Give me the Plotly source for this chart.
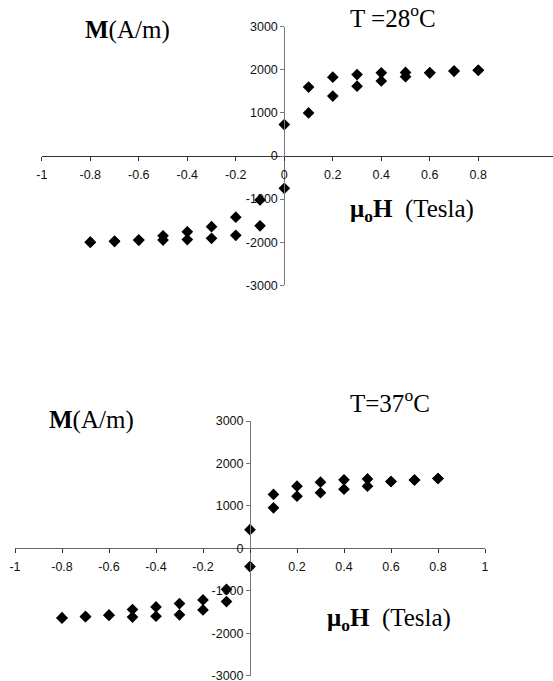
import plotly.graph_objects as go

W, H = 553, 681

field = [-0.8, -0.7, -0.6, -0.5, -0.4, -0.3, -0.2, -0.1, 0.0,
         0.1, 0.2, 0.3, 0.4, 0.5, 0.6, 0.7, 0.8]

m28_upper = [-2000, -1980, -1950, -1850, -1760, -1640, -1420, -1020, 730,
             1600, 1830, 1890, 1930, 1940, 1930, 1970, 1990]
m28_lower = [-2000, -1980, -1950, -1950, -1940, -1910, -1840, -1620, -750,
             1000, 1390, 1620, 1740, 1840, 1930, 1970, 1990]

m37_upper = [-1640, -1610, -1575, -1440, -1380, -1300, -1215, -965, 440,
             1270, 1465, 1560, 1615, 1635, 1575, 1610, 1645]
m37_lower = [-1640, -1605, -1575, -1620, -1600, -1565, -1450, -1255, -430,
             955, 1230, 1310, 1395, 1465, 1575, 1610, 1645]

x_ticks_top = [-1, -0.8, -0.6, -0.4, -0.2, 0, 0.2, 0.4, 0.6, 0.8]
x_ticks_bot = [-1, -0.8, -0.6, -0.4, -0.2, 0, 0.2, 0.4, 0.6, 0.8, 1]
x_labels_top = ["-1", "-0.8", "-0.6", "-0.4", "-0.2", "0", "0.2", "0.4", "0.6", "0.8"]
x_labels_bot = ["-1", "-0.8", "-0.6", "-0.4", "-0.2", "0", "0.2", "0.4", "0.6", "0.8", "1"]
y_ticks = [-3000, -2000, -1000, 0, 1000, 2000, 3000]
y_labels = ["-3000", "-2000", "-1000", "0", "1000", "2000", "3000"]

def px_x(p):
    return p / W

def px_y(p):
    return 1 - p / H

fig = go.Figure()
mk = dict(symbol="diamond", size=9, color="black")
for ys in (m28_upper, m28_lower):
    fig.add_trace(go.Scatter(x=field, y=ys, mode="markers", marker=mk,
                             xaxis="x", yaxis="y", showlegend=False, cliponaxis=False))
for ys in (m37_upper, m37_lower):
    fig.add_trace(go.Scatter(x=field, y=ys, mode="markers", marker=mk,
                             xaxis="x2", yaxis="y2", showlegend=False, cliponaxis=False))

tickfont = dict(family="Liberation Sans, Arial, sans-serif", size=12.5, color="#111")
common = dict(showgrid=False, zeroline=False, showline=True, ticks="outside",
              ticklen=4, tickwidth=1, tickfont=tickfont, fixedrange=True,
              automargin=False, ticklabeloverflow="allow")

# top panel geometry (pixels)
t_y3000, t_yn3000 = 26.7, 285.3
t_xm1, t_x0 = 41.8, 284.3
t_unit = (t_x0 - t_xm1)  # pixels per 1.0
t_xmax = -1 + (W - t_xm1) / t_unit

# bottom panel geometry
b_y3000, b_yn3000 = 421.0, 675.7
b_xm1, b_x1 = 15.0, 485.0
b_x0 = (b_xm1 + b_x1) / 2

fig.update_layout(
    width=W, height=H, margin=dict(l=0, r=0, t=0, b=0, pad=0, autoexpand=False),
    paper_bgcolor="white", plot_bgcolor="white",
    xaxis=dict(**common, domain=[px_x(t_xm1), 1.0], range=[-1, t_xmax],
               anchor="free", position=px_y((t_y3000 + t_yn3000) / 2),
               tickvals=x_ticks_top, ticktext=x_labels_top, ticklabelstandoff=3,
               linecolor="#333", tickcolor="#333", linewidth=1),
    yaxis=dict(**common, domain=[px_y(t_yn3000), px_y(t_y3000)], range=[-3000, 3000],
               anchor="free", position=px_x(t_x0),
               tickvals=y_ticks, ticktext=y_labels, ticklabelstandoff=0,
               linecolor="#777", tickcolor="#777", linewidth=1),
    xaxis2=dict(**common, domain=[px_x(b_xm1), px_x(b_x1)], range=[-1, 1],
                anchor="free", position=px_y((b_y3000 + b_yn3000) / 2),
                tickvals=x_ticks_bot, ticktext=x_labels_bot, ticklabelstandoff=3,
                linecolor="#666", tickcolor="#333", linewidth=1),
    yaxis2=dict(**common, domain=[px_y(b_yn3000), px_y(b_y3000)], range=[-3000, 3000],
                anchor="free", position=px_x(b_x0),
                tickvals=y_ticks, ticktext=y_labels, ticklabelstandoff=0,
                linecolor="#777", tickcolor="#777", linewidth=1),
)

serif = dict(family="Liberation Serif, Times New Roman, serif", size=25, color="black")
ann = [
    ("<b>M</b>(A/m)", 83, 30),
    ("T =28<sup>o</sup>C", 348, 16),
    ("<b>μ<sub>o</sub>H</b>\u00a0\u00a0(Tesla)", 348, 211),
    ("T=37<sup>o</sup>C", 348, 401),
    ("<b>M</b>(A/m)", 47, 420),
    ("<b>μ<sub>o</sub>H</b>\u00a0\u00a0(Tesla)", 325, 619),
]
for txt, x, y in ann:
    fig.add_annotation(text=txt, x=px_x(x), y=px_y(y), xref="paper", yref="paper",
                       xanchor="left", yanchor="middle", showarrow=False, font=serif)

fig.write_html("out.html",
               config={"displayModeBar": False, "staticPlot": True},
               post_script="document.body.style.margin='0px';"
                           "document.body.style.overflow='hidden';")
